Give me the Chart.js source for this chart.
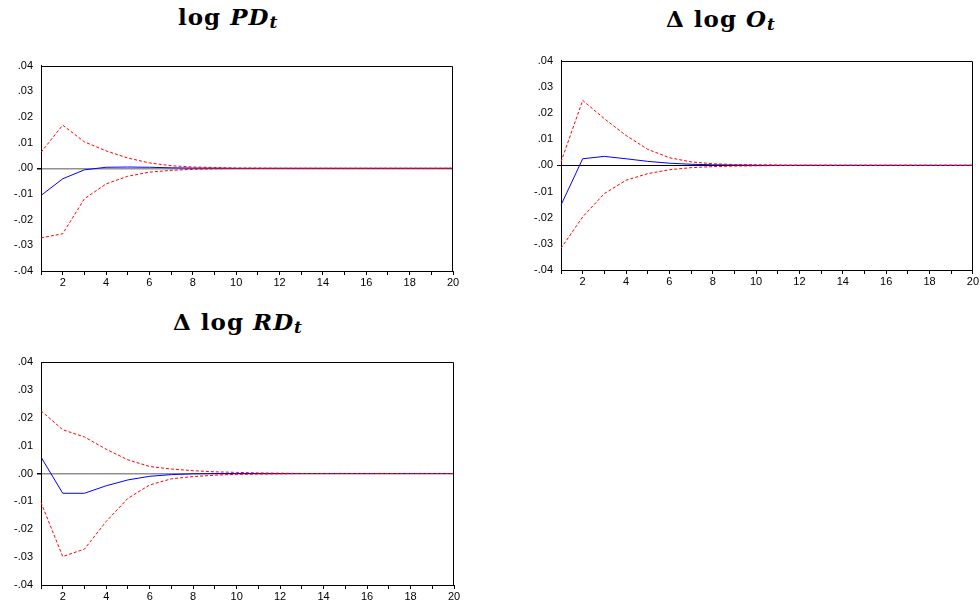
<!DOCTYPE html>
<html>
<head>
<meta charset="utf-8">
<script src="https://cdn.jsdelivr.net/npm/chart.js@4"></script>
<style>
  body { margin: 0; background: #fff; width: 980px; height: 602px; position: relative; overflow: hidden; }
  canvas { position: absolute; }
  .ttl { position: absolute; font-family: "DejaVu Serif", serif; font-weight: bold; font-size: 23px; line-height: 24px; letter-spacing: 1px; white-space: nowrap; color: #000; }
  .ttl i { font-style: italic; }
  .ttl sub { font-size: 17px; font-style: italic; vertical-align: -3px; }
</style>
</head>
<body>
<div class="ttl" style="left:178px; top:5px;">log <i>PD</i><sub>t</sub></div>
<div class="ttl" style="left:666px; top:7px;">&Delta; log <i>O</i><sub>t</sub></div>
<div class="ttl" style="left:173px; top:310px;">&Delta; log <i>RD</i><sub>t</sub></div>

<canvas id="c1" width="470" height="240" style="left:0px; top:55px;"></canvas>
<canvas id="c2" width="480" height="240" style="left:500px; top:50px;"></canvas>
<canvas id="c3" width="470" height="252" style="left:0px; top:350px;"></canvas>

<script>
const periods = [1, 2, 3, 4, 5, 6, 7, 8, 9, 10, 11, 12, 13, 14, 15, 16, 17, 18, 19, 20];
const yTicks = [-0.04, -0.03, -0.02, -0.01, 0, 0.01, 0.02, 0.03, 0.04];

// log PD
const pdUpper = [0.0062, 0.0168, 0.0103, 0.0068, 0.0040, 0.0021, 0.0010, 0.0005, 0.0003, 0.0001, 0.0001, 0, 0, 0, 0, 0, 0, 0, 0, 0];
const pdResp  = [-0.0106, -0.0041, -0.0006, 0.0004, 0.0005, 0.0004, 0.0002, 0.0001, 0.00005, 0, 0, 0, 0, 0, 0, 0, 0, 0, 0, 0];
const pdLower = [-0.0271, -0.0255, -0.0119, -0.0061, -0.0031, -0.0015, -0.0008, -0.0004, -0.0002, -0.0001, -0.0001, 0, 0, 0, 0, 0, 0, 0, 0, 0];

// d log O
const oUpper = [0.0013, 0.0248, 0.0178, 0.0114, 0.0061, 0.0029, 0.0013, 0.0006, 0.0003, 0.0002, 0.0001, 0, 0, 0, 0, 0, 0, 0, 0, 0];
const oResp  = [-0.0152, 0.0025, 0.0034, 0.0025, 0.0015, 0.0008, 0.0004, 0.0002, 0.0001, 0, 0, 0, 0, 0, 0, 0, 0, 0, 0, 0];
const oLower = [-0.0317, -0.0197, -0.0108, -0.0057, -0.0032, -0.0017, -0.0009, -0.0005, -0.0003, -0.0002, -0.0001, 0, 0, 0, 0, 0, 0, 0, 0, 0];

// d log RD
const rdUpper = [0.0225, 0.0157, 0.0131, 0.0087, 0.0049, 0.0025, 0.0016, 0.0010, 0.0006, 0.0004, 0.0002, 0.0001, 0, 0, 0, 0, 0, 0, 0, 0];
const rdResp  = [0.0059, -0.0071, -0.0071, -0.0044, -0.0023, -0.0010, -0.0004, -0.0001, 0, 0, 0, 0, 0, 0, 0, 0, 0, 0, 0, 0];
const rdLower = [-0.0104, -0.0298, -0.0271, -0.0172, -0.0089, -0.0041, -0.0019, -0.0011, -0.0006, -0.0003, -0.0002, -0.0001, 0, 0, 0, 0, 0, 0, 0, 0];

// draws top and right sides of the frame
const boxPlugin = {
    id: 'box',
    afterDraw(chart) {
        const a = chart.chartArea, ctx = chart.ctx;
        ctx.save();
        ctx.strokeStyle = '#000';
        ctx.lineWidth = 1;
        ctx.beginPath();
        ctx.moveTo(Math.round(a.left), Math.round(a.top) + 0.5);
        ctx.lineTo(Math.round(a.right) - 0.5, Math.round(a.top) + 0.5);
        ctx.lineTo(Math.round(a.right) - 0.5, Math.round(a.bottom));
        ctx.stroke();
        ctx.restore();
    }
};

function fmt(v) {
    let s = Math.abs(v).toFixed(2).replace(/^0/, '');
    return (v < -1e-9 ? '-' : '') + s;
}

function makeChart(id, upper, resp, lower, opt) {
    new Chart(document.getElementById(id), {
        type: 'line',
        data: {
            labels: periods,
            datasets: [
                { data: upper, borderColor: '#ff0000', borderWidth: 1, borderDash: [3, 2], pointRadius: 0, tension: 0 },
                { data: lower, borderColor: '#ff0000', borderWidth: 1, borderDash: [3, 2], pointRadius: 0, tension: 0 },
                { data: resp, borderColor: '#0000ff', borderWidth: 1, pointRadius: 0, tension: 0 }
            ]
        },
        options: {
            responsive: false,
            animation: false,
            devicePixelRatio: 1,
            layout: { padding: { top: opt.top, right: opt.right, left: 0, bottom: 0 } },
            plugins: { legend: { display: false }, tooltip: { enabled: false } },
            scales: {
                x: {
                    offset: false,
                    border: { display: true, color: '#000', width: 1 },
                    grid: { color: 'transparent', tickColor: '#000', tickLength: 4, drawOnChartArea: false },
                    ticks: {
                        autoSkip: false, maxRotation: 0, padding: 1, color: '#000',
                        font: { family: 'Liberation Sans', size: 11 },
                        callback: (v, i) => periods[i] % 2 === 0 ? String(periods[i]) : ''
                    },
                    afterFit: s => { s.height = opt.xh; }
                },
                y: {
                    min: yTicks[0], max: yTicks[yTicks.length - 1],
                    border: { display: true, color: '#000', width: 1 },
                    grid: {
                        color: c => Math.abs(c.tick.value) < 1e-9 ? opt.zero : 'transparent',
                        lineWidth: c => Math.abs(c.tick.value) < 1e-9 ? opt.zw : 0,
                        tickColor: '#000', tickLength: 4
                    },
                    afterBuildTicks: s => { s.ticks = yTicks.map(v => ({ value: v })); },
                    ticks: {
                        padding: 4, color: '#000',
                        font: { family: 'Liberation Sans', size: 11 },
                        callback: v => fmt(v)
                    },
                    afterFit: s => { s.width = opt.yw; }
                }
            }
        },
        plugins: [boxPlugin]
    });
}

makeChart('c1', pdUpper, pdResp, pdLower, { top: 9, right: 17, xh: 24, yw: 41, zero: '#909090', zw: 1.5 });
makeChart('c2', oUpper, oResp, oLower, { top: 10, right: 7, xh: 20, yw: 61, zero: '#000', zw: 1 });
makeChart('c3', rdUpper, rdResp, rdLower, { top: 12, right: 16, xh: 17, yw: 41, zero: '#909090', zw: 1.5 });
</script>
</body>
</html>
